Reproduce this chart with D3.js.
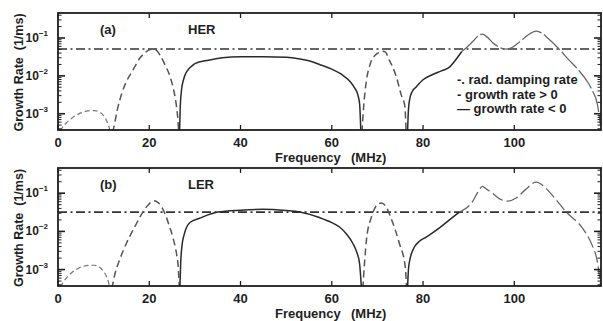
<!DOCTYPE html>
<html><head><meta charset="utf-8">
<script src="https://cdn.jsdelivr.net/npm/d3@7"></script>
<style>
html,body{margin:0;padding:0;background:#fff;}
svg{display:block;font-family:"Liberation Sans",Arial,sans-serif;}
</style></head>
<body><svg id="c" width="603" height="321"></svg>
<script>
// ---------- data ----------
const xTicks = [0, 20, 40, 60, 80, 100];
const yTickExps = [-3, -2, -1];
const panelTags = ["(a)", "(b)"];
const panelNames = ["HER", "LER"];
const legendLabels = ["-. rad. damping rate", "- growth rate > 0", "\u2014 growth rate < 0"];

const herDamping = 0.051;
const lerDamping = 0.032;

// sign of growth rate for each segment
const herSign = ["+", "+", "-", "+", "-", "+"];
const herFreq = [
  [0.5,1,2,3,4,5,6,7,8,9,10,10.7,11.2,11.6],
  [12,12.5,13,14,15,16,17,18,19,20,20.8,21.5,22.5,23.5,24.5,25.3,25.9,26.3,26.5],
  [26.6,26.8,27.1,27.5,28,28.6,29.3,30,33,36,40,45,50,53,55,57.3,60,62,64,65,65.7,66.1,66.4],
  [66.6,67,67.3,67.6,68.5,69.5,70.5,71.1,71.8,72.6,73.4,74.2,75.2,76,76.3],
  [76.6,76.8,77.1,77.6,78.5,80,82,84,85.8,87,88.5],
  [88.5,89.5,91,92,93,94,95.5,97,98.2,99.5,101,103,104.8,106,107.5,109.8,112,114,116,117,118.2,118.9]
];
const herRate = [
  [0.00035,0.00044,0.0006,0.00076,0.00091,0.00105,0.00115,0.0012,0.0012,0.00112,0.00089,0.00063,0.00044,0.00025],
  [0.00032,0.00063,0.00126,0.0035,0.0071,0.0117,0.019,0.030,0.040,0.049,0.051,0.048,0.033,0.019,0.010,0.0045,0.0018,0.00063,0.00025],
  [0.00025,0.0016,0.0045,0.0079,0.0117,0.015,0.018,0.021,0.026,0.030,0.032,0.032,0.031,0.028,0.025,0.020,0.015,0.0112,0.0071,0.0048,0.0032,0.0018,0.00025],
  [0.00032,0.0016,0.004,0.0076,0.022,0.035,0.042,0.045,0.042,0.026,0.0166,0.0089,0.0032,0.0016,0.00032],
  [0.00032,0.00126,0.0025,0.0038,0.0051,0.0079,0.0107,0.0135,0.017,0.025,0.044],
  [0.044,0.055,0.083,0.112,0.126,0.107,0.071,0.055,0.051,0.056,0.076,0.12,0.151,0.135,0.095,0.051,0.026,0.0145,0.0071,0.0043,0.0018,0.0005]
];

const lerSign = ["+", "+", "-", "+", "-", "+"];
const lerFreq = [
  [0.5,1.5,3,5,7,8,9,10,10.7,11.2,11.5],
  [11.8,12.5,13.5,15,16.8,18.6,19.8,21,22,23.4,24.3,25.2,26,26.3,26.6],
  [26.7,26.9,27.2,27.6,28.2,29,31,35,40,45,50,53,57.3,60,61.7,63.3,64.6,65.5,66.1,66.5],
  [66.8,67.6,68.7,69.8,70.9,72,73,74.8,76.1,76.4],
  [76.6,76.8,77.1,77.6,78.1,79.2,80.7,83.6,86.4,88],
  [88,90.8,92,93,94,95.2,96.8,98.5,100.5,102.5,104.8,106.5,108.3,111.4,114.9,117,118.2,118.9]
];
const lerRate = [
  [0.00035,0.00054,0.00083,0.00115,0.0013,0.0013,0.00117,0.00089,0.00063,0.0004,0.00025],
  [0.00032,0.00079,0.0018,0.0049,0.013,0.032,0.050,0.063,0.056,0.030,0.015,0.0068,0.0025,0.0014,0.00032],
  [0.00032,0.0016,0.0045,0.0079,0.013,0.0174,0.022,0.032,0.036,0.038,0.035,0.032,0.023,0.017,0.013,0.0083,0.0049,0.0028,0.0014,0.00032],
  [0.00032,0.006,0.024,0.047,0.055,0.042,0.022,0.0049,0.00117,0.00032],
  [0.00032,0.001,0.0018,0.0029,0.0039,0.0055,0.0071,0.0123,0.023,0.032],
  [0.032,0.059,0.105,0.151,0.126,0.1,0.071,0.062,0.076,0.126,0.195,0.151,0.089,0.032,0.0123,0.0045,0.0016,0.0004]
];

// ---------- drawing ----------
const svg = d3.select("#c");
const X0 = 58, X1 = 601;
const panels = [
  {top: 13, bottom: 130, tag: panelTags[0], name: panelNames[0], damp: herDamping, sign: herSign, freq: herFreq, rate: herRate, legend: true},
  {top: 168, bottom: 286, tag: panelTags[1], name: panelNames[1], damp: lerDamping, sign: lerSign, freq: lerFreq, rate: lerRate, legend: false}
];
const x = d3.scaleLinear().domain([0, 119]).range([X0, X1]);
const yMin = Math.pow(10, -3.43), yMax = Math.pow(10, -0.34);
const ink = "#1e1e1e";

panels.forEach((p, i) => {
  const y = d3.scaleLog().domain([yMin, yMax]).range([p.bottom, p.top]);
  const g = svg.append("g");
  const clipId = "clip" + i;
  svg.append("clipPath").attr("id", clipId).append("rect")
    .attr("x", X0).attr("y", p.top).attr("width", X1 - X0).attr("height", p.bottom - p.top);

  // damping line
  g.append("line").attr("clip-path", `url(#${clipId})`)
    .attr("x1", X0).attr("x2", X1).attr("y1", y(p.damp)).attr("y2", y(p.damp))
    .attr("stroke", "#333").attr("stroke-width", 1.6).attr("stroke-dasharray", "9,3.5,2,3.5");

  // growth-rate curves
  const line = d3.line().x(d => x(d[0])).y(d => y(d[1])).curve(d3.curveMonotoneX);
  p.freq.forEach((fs, k) => {
    const pts = fs.map((f, j) => [f, p.rate[k][j]]);
    const pos = p.sign[k] === "+";
    let dash = pos ? "7,4" : null;
    let col = pos ? "#555" : "#2a2a2a";
    let w = 1.5;
    if (pos && k === 0) { dash = "5,3"; col = "#777"; w = 1.2; }
    if (pos && k === 5) { dash = i === 0 ? "22,3" : "12,4"; col = "#666"; w = 1.3; }
    g.append("path").attr("clip-path", `url(#${clipId})`)
      .attr("d", line(pts)).attr("fill", "none")
      .attr("stroke", col).attr("stroke-width", w)
      .attr("stroke-dasharray", dash);
  });

  // x ticks (top & bottom, inward)
  xTicks.forEach(t => {
    g.append("line").attr("x1", x(t)).attr("x2", x(t)).attr("y1", p.bottom).attr("y2", p.bottom - 5)
      .attr("stroke", ink).attr("stroke-width", 1.3);
    g.append("line").attr("x1", x(t)).attr("x2", x(t)).attr("y1", p.top).attr("y2", p.top + 5)
      .attr("stroke", ink).attr("stroke-width", 1.3);
    g.append("text").attr("x", x(t)).attr("y", p.bottom + 17).attr("text-anchor", "middle")
      .attr("font-size", 13).attr("font-weight", "bold").attr("fill", ink).text(t);
  });

  // y ticks (major + minor, left & right, inward)
  for (let e = -4; e <= -1; e++) {
    for (let m = 1; m <= 9; m++) {
      const v = m * Math.pow(10, e);
      if (v < yMin || v > yMax) continue;
      const len = m === 1 ? 7 : 3.5;
      const yy = y(v);
      g.append("line").attr("x1", X0).attr("x2", X0 + len).attr("y1", yy).attr("y2", yy)
        .attr("stroke", ink).attr("stroke-width", m === 1 ? 1.6 : 1);
      g.append("line").attr("x1", X1).attr("x2", X1 - len).attr("y1", yy).attr("y2", yy)
        .attr("stroke", ink).attr("stroke-width", m === 1 ? 1.6 : 1);
    }
  }
  yTickExps.forEach(e => {
    const t = g.append("text").attr("x", 48).attr("y", y(Math.pow(10, e)) + 4)
      .attr("text-anchor", "end").attr("font-size", 12).attr("font-weight", "bold").attr("fill", ink);
    t.append("tspan").text("10");
    t.append("tspan").attr("dy", -6).attr("font-size", 8).text("\u2212" + Math.abs(e));
  });

  // frame
  g.append("rect").attr("x", X0).attr("y", p.top).attr("width", X1 - X0).attr("height", p.bottom - p.top)
    .attr("fill", "none").attr("stroke", ink).attr("stroke-width", 1.8);

  // axis titles
  const xt = g.append("text").attr("y", p.bottom + 32).attr("font-size", 13).attr("font-weight", "bold").attr("fill", ink);
  xt.append("tspan").attr("x", 275).text("Frequency");
  xt.append("tspan").attr("x", 351).text("(MHz)");
  g.append("text").attr("transform", `translate(23,${(p.top + p.bottom) / 2 + 1}) rotate(-90)`)
    .attr("text-anchor", "middle").attr("font-size", 12.5).attr("font-weight", "bold").attr("fill", ink)
    .attr("xml:space", "preserve").text("Growth Rate  (1/ms)");

  // panel labels
  g.append("text").attr("x", 100).attr("y", p.top + 21).attr("font-size", 13).attr("font-weight", "bold").attr("fill", ink).text(p.tag);
  g.append("text").attr("x", 188).attr("y", p.top + 21).attr("font-size", 13).attr("font-weight", "bold").attr("fill", ink).text(p.name);

  if (p.legend) {
    legendLabels.forEach((s, j) => {
      g.append("text").attr("x", 457).attr("y", 84 + j * 14.5).attr("font-size", 13)
        .attr("font-weight", "bold").attr("fill", ink).attr("xml:space", "preserve").text(s);
    });
  }
});
</script></body></html>
